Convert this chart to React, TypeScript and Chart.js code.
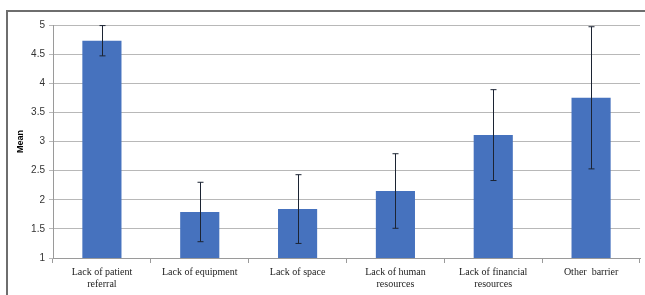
import React, { useEffect, useRef } from "react";
import { Chart, registerables } from "chart.js";

Chart.register(...registerables);

const categories: (string | string[])[] = [
  ["Lack of patient", "referral"],
  "Lack of equipment",
  "Lack of space",
  ["Lack of human", "resources"],
  ["Lack of financial", "resources"],
  "Other  barrier",
];
const means = [4.73, 1.79, 1.84, 2.15, 3.11, 3.75];
const errors = [0.26, 0.51, 0.59, 0.64, 0.78, 1.22];
const yTicks = [1, 1.5, 2, 2.5, 3, 3.5, 4, 4.5, 5];

const errorBarPlugin = {
  id: "errorBars",
  afterDatasetsDraw(chart: any) {
    const { ctx, scales } = chart;
    const meta = chart.getDatasetMeta(0);
    ctx.save();
    ctx.strokeStyle = "#1c2433";
    ctx.lineWidth = 1;
    meta.data.forEach((bar: any, i: number) => {
      const x = Math.round(bar.x) + 0.5;
      const top = scales.y.getPixelForValue(means[i] + errors[i]);
      const bot = scales.y.getPixelForValue(means[i] - errors[i]);
      ctx.beginPath();
      ctx.moveTo(x, top);
      ctx.lineTo(x, bot);
      ctx.moveTo(x - 3, top);
      ctx.lineTo(x + 3, top);
      ctx.moveTo(x - 3, bot);
      ctx.lineTo(x + 3, bot);
      ctx.stroke();
    });
    ctx.restore();
  },
};

const framePlugin = {
  id: "frame",
  beforeDraw(chart: any) {
    const { ctx, width, height } = chart;
    ctx.save();
    ctx.fillStyle = "#ffffff";
    ctx.fillRect(0, 0, width, height);
    ctx.strokeStyle = "#6e6e6e";
    ctx.lineWidth = 2;
    ctx.beginPath();
    ctx.moveTo(7, height);
    ctx.lineTo(7, 11);
    ctx.lineTo(width, 11);
    ctx.stroke();
    ctx.restore();
  },
};

export default function App() {
  const ref = useRef<HTMLCanvasElement>(null);
  useEffect(() => {
    document.body.style.margin = "0";
    const chart = new Chart(ref.current!, {
      type: "bar",
      data: {
        labels: categories,
        datasets: [
          {
            data: means,
            backgroundColor: "#4672be",
            borderWidth: 0,
            categoryPercentage: 1,
            barPercentage: 0.4,
          },
        ],
      },
      options: {
        animation: false,
        responsive: false,
        maintainAspectRatio: false,
        layout: { padding: { left: 0, right: 5, top: 25, bottom: 0 } },
        plugins: { legend: { display: false }, tooltip: { enabled: false } },
        scales: {
          x: {
            afterFit(scale: any) {
              scale.height = 37;
            },
            grid: {
              offset: true,
              drawOnChartArea: false,
              drawTicks: true,
              tickLength: 5,
              color: "#9a9a9a",
            },
            border: { color: "#9a9a9a", width: 1 },
            ticks: {
              color: "#222",
              padding: 3,
              maxRotation: 0,
              autoSkip: false,
              font: { family: "Liberation Serif", size: 10, lineHeight: 1.2 },
            },
          },
          y: {
            min: 1,
            max: 5,
            afterFit(scale: any) {
              scale.width = 53;
            },
            afterBuildTicks(scale: any) {
              scale.ticks = yTicks.map((v) => ({ value: v }));
            },
            grid: { color: "#b8b8b8", tickLength: 4, drawTicks: true },
            border: { color: "#9a9a9a", width: 1 },
            ticks: {
              color: "#333",
              padding: 4,
              font: { family: "Liberation Sans", size: 10 },
              callback: (v: any) => String(v),
            },
            title: {
              display: true,
              text: "Mean",
              color: "#000",
              font: { family: "Liberation Sans", size: 9, weight: "bold" },
              padding: { top: 15, bottom: 0 },
            },
          },
        },
      },
      plugins: [framePlugin, errorBarPlugin],
    });
    return () => chart.destroy();
  }, []);
  return (
    <div style={{ position: "absolute", left: 0, top: 0, width: 645, height: 295 }}>
      <canvas ref={ref} width={645} height={295} style={{ display: "block" }} />
    </div>
  );
}
